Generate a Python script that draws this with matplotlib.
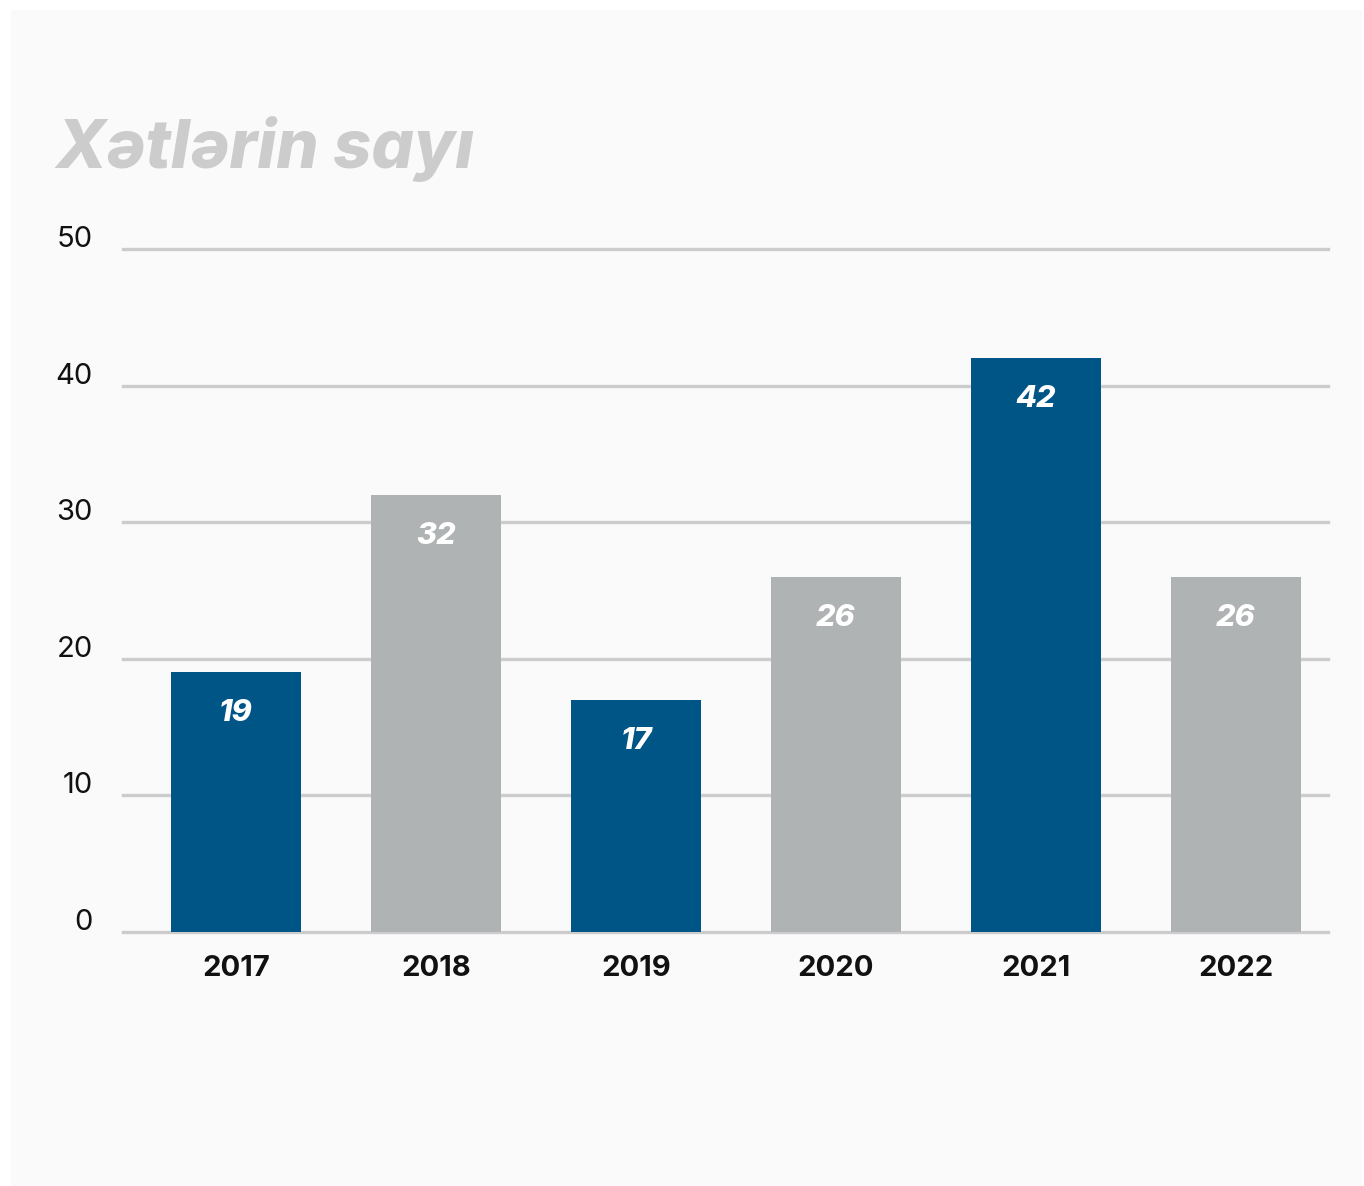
import matplotlib.pyplot as plt
from matplotlib.patches import Rectangle

years = ['2017', '2018', '2019', '2020', '2021', '2022']
counts = [19, 32, 17, 26, 42, 26]
colors = ['#005587', '#b0b3b4', '#005587', '#b0b3b4', '#005587', '#b0b3b4']
yticks = [0, 10, 20, 30, 40, 50]

plt.rcParams['font.family'] = ['Inter', 'Open Sans', 'DejaVu Sans']

W, H = 1364, 1186
fig = plt.figure(figsize=(W/100, H/100), dpi=100)
fig.patch.set_facecolor('white')
# light panel behind everything
fig.patches.append(Rectangle((11/W, 0), (1362-11)/W, 1-10/H, transform=fig.transFigure,
                             facecolor='#fafafa', edgecolor='none', zorder=-5))

ax = fig.add_axes([123/W, 1-932/H, (1328-123)/W, (932-249)/H])
ax.set_zorder(2)
ax.set_facecolor('none')
for s in ax.spines.values():
	s.set_visible(False)

for t in yticks:
	ax.axhline(t, color='#cccccc', lw=2.4, zorder=1, clip_on=False)
	ax.text(-0.0249, t + 0.15, str(t), transform=ax.get_yaxis_transform(), ha='right', va='baseline',
			fontsize=21, color='#111111')

x = list(range(len(years)))
ax.bar(x, counts, width=0.65, color=colors, zorder=2)
for xi, v in zip(x, counts):
	ax.text(xi, v - 3, str(v), ha='center', va='center', fontsize=22, fontweight='heavy',
			fontstyle='italic', color='white', zorder=3)
	ax.text(xi, -1.7, years[xi], ha='center', va='top', fontsize=21, fontweight='bold',
			color='#111111')

ax.set_xlim(-0.565, 5.46)
ax.set_ylim(0, 50)
ax.set_xticks([])
ax.set_yticks([])

fig.text(55/W, 1-168/H, 'Xətlərin sayı', ha='left', va='baseline', fontsize=48,
		 fontweight='heavy', fontstyle='italic', color='#cccccc')

fig.savefig('out.png', dpi=100, facecolor=fig.get_facecolor())
